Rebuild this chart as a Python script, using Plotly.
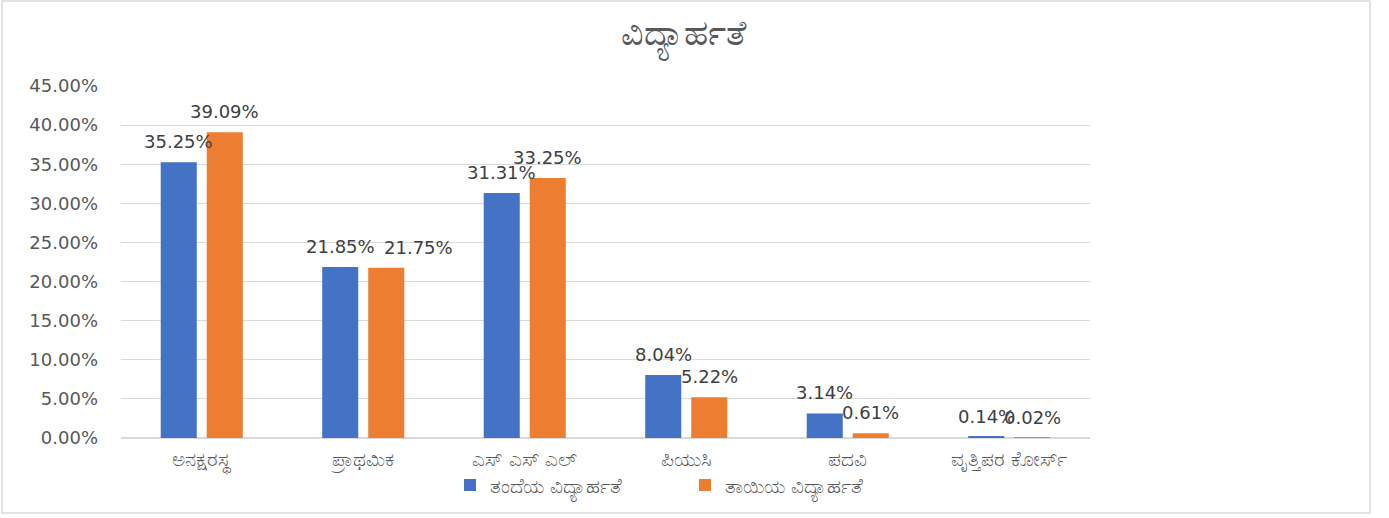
import plotly.graph_objects as go

categories = ["ಅನಕ್ಷರಸ್ಥ", "ಪ್ರಾಥಮಿಕ", "ಎಸ್ ಎಸ್ ಎಲ್", "ಪಿಯುಸಿ", "ಪದವಿ", "ವೃತ್ತಿಪರ ಕೋರ್ಸ್"]
father = [0.3525, 0.2185, 0.3131, 0.0804, 0.0314, 0.0014]
mother = [0.3909, 0.2175, 0.3325, 0.0522, 0.0061, 0.0002]
series_names = ["ತಂದೆಯ ವಿದ್ಯಾರ್ಹತೆ", "ತಾಯಿಯ ವಿದ್ಯಾರ್ಹತೆ"]
tick_vals = [0, 0.05, 0.10, 0.15, 0.20, 0.25, 0.30, 0.35, 0.40, 0.45]

# label nudges (px) to keep adjacent data labels apart, as in the reference
nudge_father = [0, 0, 0, 0, 0, 0]
nudge_mother = [0, 32, 0, 0, 0, 0]

font_family = "DejaVu Sans, Noto Sans, sans-serif"

L, T, PW, PH = 121, 86, 969, 352
W, H = 1389, 518
BAR_OFFSET = 23  # half of a bar slot, px

fig = go.Figure()
for vals, name, color, sign, nudges in [(father, series_names[0], "#4472C4", -1, nudge_father),
                                        (mother, series_names[1], "#ED7D31", 1, nudge_mother)]:
    fig.add_trace(go.Bar(x=categories, y=vals, name=name, marker_color=color,
                         marker_line_width=0))
    for c, v, n in zip(categories, vals, nudges):
        fig.add_annotation(x=c, y=v, text=f"{v*100:.2f}%", showarrow=False,
                           xanchor="center", yanchor="bottom", xshift=sign * BAR_OFFSET + n,
                           yshift=8, font=dict(size=18, color="#404040"))

fig.update_layout(
    width=W, height=H,
    paper_bgcolor="white", plot_bgcolor="white",
    font=dict(family=font_family, color="#595959"),
    title=dict(text="ವಿದ್ಯಾರ್ಹತೆ", x=683 / W, xanchor="center", y=1 - 33 / H, yanchor="middle",
               font=dict(size=35, color="#595959")),
    margin=dict(l=L, r=W - L - PW, t=T, b=H - T - PH),
    barmode="group", bargap=0.43, bargroupgap=0.217,
    legend=dict(orientation="h", x=(450 - L) / PW, xanchor="left", y=-(485 - T - PH) / PH,
                yanchor="middle", font=dict(size=20, color="#595959"), itemwidth=30,
                entrywidth=190, bgcolor="rgba(0,0,0,0)"),
    showlegend=True,
)
fig.update_yaxes(range=[0, 0.45], tickvals=tick_vals, tickformat=".2%",
                 showgrid=True, gridcolor="#D9D9D9", gridwidth=1,
                 zeroline=True, zerolinecolor="#D9D9D9",
                 tickfont=dict(size=18, color="#595959"), ticks="", ticklen=0,
                 ticklabelstandoff=22)
fig.update_xaxes(tickfont=dict(size=20, color="#595959"), showline=True, linecolor="#D9D9D9",
                 ticks="", ticklabelstandoff=3)
fig.add_shape(type="rect", xref="paper", yref="paper",
              x0=(2 - L) / PW, x1=(1370 - L) / PW,
              y0=-(513 - T - PH) / PH, y1=(T + PH - 1) / PH,
              line=dict(color="#D9D9D9", width=1.5), fillcolor="rgba(0,0,0,0)")
fig.write_html("out.html", config={"displayModeBar": False},
               post_script="document.body.style.margin='0';")
